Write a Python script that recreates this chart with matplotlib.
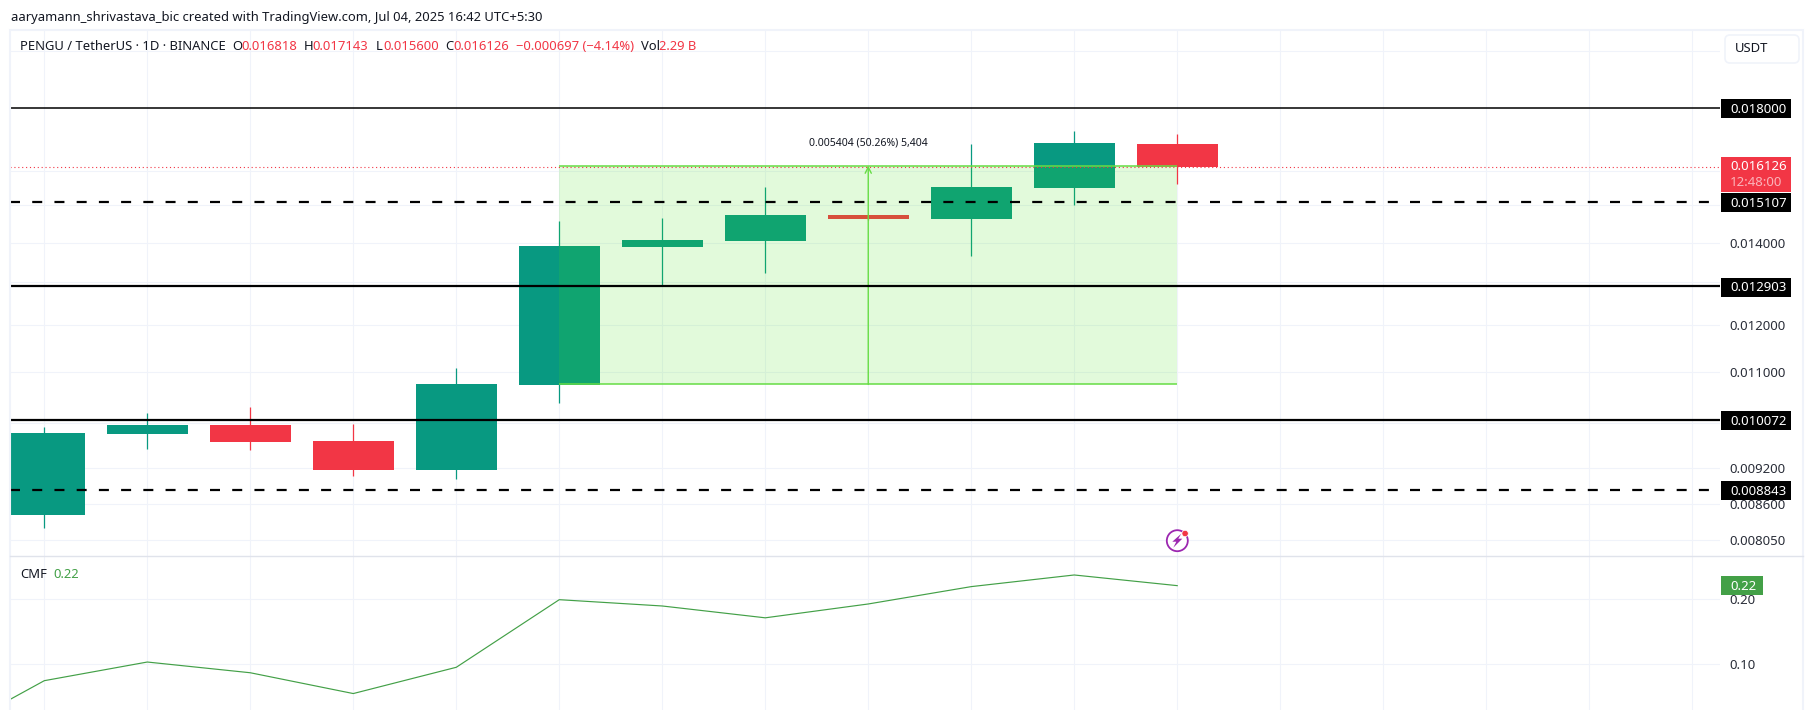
import matplotlib
matplotlib.use("Agg")
import matplotlib.pyplot as plt
from matplotlib.patches import Rectangle, FancyBboxPatch, Circle, Polygon

# --- daily OHLC candles for PENGU / USDT ---
opens = [0.008433, 0.009810, 0.009972, 0.009678, 0.009171, 0.010741,
         0.013885, 0.014040, 0.014737, 0.014636, 0.015505, 0.016818]
highs = [0.009934, 0.010197, 0.010311, 0.009990, 0.011087, 0.014582,
         0.014656, 0.015525, 0.014750, 0.016819, 0.017230, 0.017143]
lows = [0.008237, 0.009536, 0.009518, 0.009074, 0.009018, 0.010388,
        0.012913, 0.013237, 0.014610, 0.013662, 0.015014, 0.015600]
closes = [0.009823, 0.009972, 0.009660, 0.009171, 0.010760, 0.013910,
          0.014067, 0.014737, 0.014629, 0.015525, 0.016850, 0.016126]

# Chaikin money flow, starting one session before the first candle
cmf_sessions = [-1, 0, 1, 2, 3, 4, 5, 6, 7, 8, 9, 10, 11]
cmf_values = [-0.012, 0.0748, 0.1035, 0.087, 0.055, 0.0954, 0.1994,
              0.1897, 0.1715, 0.1928, 0.2195, 0.2374, 0.221]

# Horizontal levels drawn by hand
solid_levels = [0.018000, 0.012903, 0.010072]
solid_widths = [1.1, 1.6, 1.6]
dashed_levels = [0.015107, 0.008843]
last_price = 0.016126

# Measured price range
range_low = 0.010752
range_high = 0.016156
range_start = 5
range_end = 11
range_label = "0.005404 (50.26%) 5,404"

# Price axis scale
price_ticks = [0.020, 0.016, 0.015, 0.014, 0.013, 0.012, 0.011, 0.010,
               0.0092, 0.0086, 0.00805]
cmf_ticks = [0.20, 0.10]
grid_sessions = list(range(0, 17))

W, H = 1814, 710
GREEN, RED = "#089981", "#F23645"
GRID = "#f0f3fa"
TEXT = "#131722"
AXIS_TEXT = "#2a2e39"
LIME = "#66dd44"
CMF_GREEN = "#43A047"
FONT = "Noto Sans"
px = 0.72  # points per pixel at 100 dpi

plt.rcParams["font.family"] = [FONT, "DejaVu Sans"]
fig = plt.figure(figsize=(W / 100, H / 100), dpi=100, facecolor="white")


def place(left, top, right, bottom):
    return fig.add_axes([left / W, 1 - bottom / H, (right - left) / W, (bottom - top) / H])


def style(ax, yticks, fmt):
    ax.set_xlim(-0.333, 16.27)
    for s in ax.spines.values():
        s.set_visible(False)
    ax.set_xticks(grid_sessions)
    ax.set_xticklabels([])
    ax.set_yticks(yticks)
    ax.set_yticks([], minor=True)
    ax.set_yticklabels([fmt % v for v in yticks])
    ax.yaxis.tick_right()
    ax.tick_params(axis="both", which="both", length=0)
    ax.tick_params(axis="y", pad=7.0, labelsize=13.2 * px, labelcolor=AXIS_TEXT)
    ax.grid(True, color=GRID, lw=0.75)
    ax.set_axisbelow(True)
    ax.patch.set_alpha(0)


# --- price pane ---
ax = place(10, 30, 1720, 556)
ax.set_yscale("log")
ax.set_ylim(0.007814, 0.020792)
style(ax, price_ticks, "%.6f")

sessions = list(range(len(opens)))
colors = [GREEN if c >= o else RED for o, c in zip(opens, closes)]
ax.vlines(sessions, lows, highs, colors=colors, lw=0.9, zorder=2)
ax.bar(sessions, [abs(c - o) for o, c in zip(opens, closes)],
       bottom=[min(o, c) for o, c in zip(opens, closes)],
       width=81 / 103, color=colors, lw=0, zorder=2.1)

# price-range measurement on top of the candles
ax.fill_between([range_start, range_end], range_low, range_high,
                color=(62 / 255, 228 / 255, 15 / 255), alpha=0.15, lw=0, zorder=3)
ax.hlines([range_low, range_high], range_start, range_end, color=LIME, lw=1.1, zorder=3.2)
range_mid = (range_start + range_end) / 2
ax.annotate("", xy=(range_mid, range_high), xytext=(range_mid, range_low),
            arrowprops=dict(arrowstyle="->", color=LIME, lw=1.0, shrinkA=0, shrinkB=0,
                            mutation_scale=11), zorder=3.2)
ax.annotate(range_label, xy=(range_mid, range_high), xytext=(0, 17), textcoords="offset pixels",
            ha="center", va="bottom", fontsize=10.5 * px, color=TEXT, zorder=5)

# last-price marker and hand-drawn levels
ax.axhline(last_price, color=RED, lw=0.8, ls=(0, (1, 2.5)), zorder=3.5)
for lvl, lw in zip(solid_levels, solid_widths):
    ax.axhline(lvl, color="black", lw=lw, zorder=4)
for lvl in dashed_levels:
    ax.axhline(lvl, color="black", lw=1.6, ls=(0, (4.5, 5.5)), zorder=4)

# --- CMF pane ---
ax2 = place(10, 556, 1720, 710)
ax2.set_ylim(0.0297, 0.2666)
style(ax2, cmf_ticks, "%.2f")
ax2.plot(cmf_sessions, cmf_values, color=CMF_GREEN, lw=0.85, zorder=3)

# --- pixel-space furniture: frame, header, axis tags ---
ov = fig.add_axes([0, 0, 1, 1], zorder=10)
ov.set_xlim(0, W)
ov.set_ylim(H, 0)
ov.axis("off")

ov.plot([10, 10, 1803, 1803], [H, 30, 30, H], color=GRID, lw=1.5, solid_joinstyle="miter")
ov.plot([10, 1803], [556, 556], color="#e0e3eb", lw=1.0)


def say(x, y, s, color=TEXT, size=13.0, **kw):
    ov.text(x, y, s, color=color, fontsize=size * px, va="center", ha=kw.pop("ha", "left"), **kw)


say(11, 17, "aaryamann_shrivastava_bic created with TradingView.com, Jul 04, 2025 16:42 UTC+5:30")

say(20, 47, "PENGU / TetherUS · 1D · BINANCE")
header = [(232.7, "O", TEXT), (241.4, "0.016818", RED), (304, "H", TEXT), (312.6, "0.017143", RED),
          (375.7, "L", TEXT), (383, "0.015600", RED), (445, "C", TEXT), (453, "0.016126", RED),
          (516, "−0.000697 (−4.14%)", RED), (641, "Vol", TEXT), (659, "2.29 B", RED)]
for x, s, c in header:
    say(x, 47, s, c)

say(20, 574, "CMF")
say(53, 574, "0.22", CMF_GREEN)


def price_y(value):
    return H - ax.transData.transform((0, value))[1]


def tag(y, label, color=("black"), width=70, height=19):
    ov.add_patch(Rectangle((1721, y - height / 2), width, height, color=color, lw=0, zorder=5))
    say(1730, y + 0.5, label, "white", 13.2, fontweight="semibold", zorder=6)


for lvl in sorted(solid_levels + dashed_levels, reverse=True):
    tag(price_y(lvl) + 1, "%.6f" % lvl)

# countdown tag sits on the last price
ov.add_patch(Rectangle((1721, 157), 70, 35, color=RED, lw=0, zorder=5))
say(1730, 167, "%.6f" % last_price, "white", 13.2, fontweight="semibold", zorder=6)
say(1730, 183, "12:48:00", "#fbb4ba", 13.2, zorder=6)

# CMF value tag
cmf_y = H - ax2.transData.transform((0, cmf_values[-1]))[1]
tag(cmf_y, "%.2f" % cmf_values[-1], CMF_GREEN, width=42)

# currency button
ov.add_patch(FancyBboxPatch((1729, 39), 66, 20, boxstyle="round,pad=4,rounding_size=5",
                            fc="white", ec=GRID, lw=1.2, zorder=5))
say(1735, 49, "USDT", size=13.0, zorder=6)

# news indicator below the last candle
cx, cy = 44.3 + 103 * 11, 540.7
ov.add_patch(Circle((cx, cy), 10.5, fc="white", ec="#9C27B0", lw=1.3, zorder=6))
ov.add_patch(Polygon([(cx + 4, cy - 7), (cx - 5, cy + 1), (cx - 1, cy + 1), (cx - 4, cy + 7),
                      (cx + 5, cy - 2), (cx + 1, cy - 2)], closed=True, color="#9C27B0", lw=0, zorder=7))
ov.add_patch(Circle((cx + 7.8, cy - 7.2), 3.2, fc=RED, ec="white", lw=0.5, zorder=8))

fig.savefig("out.png", dpi=100)
